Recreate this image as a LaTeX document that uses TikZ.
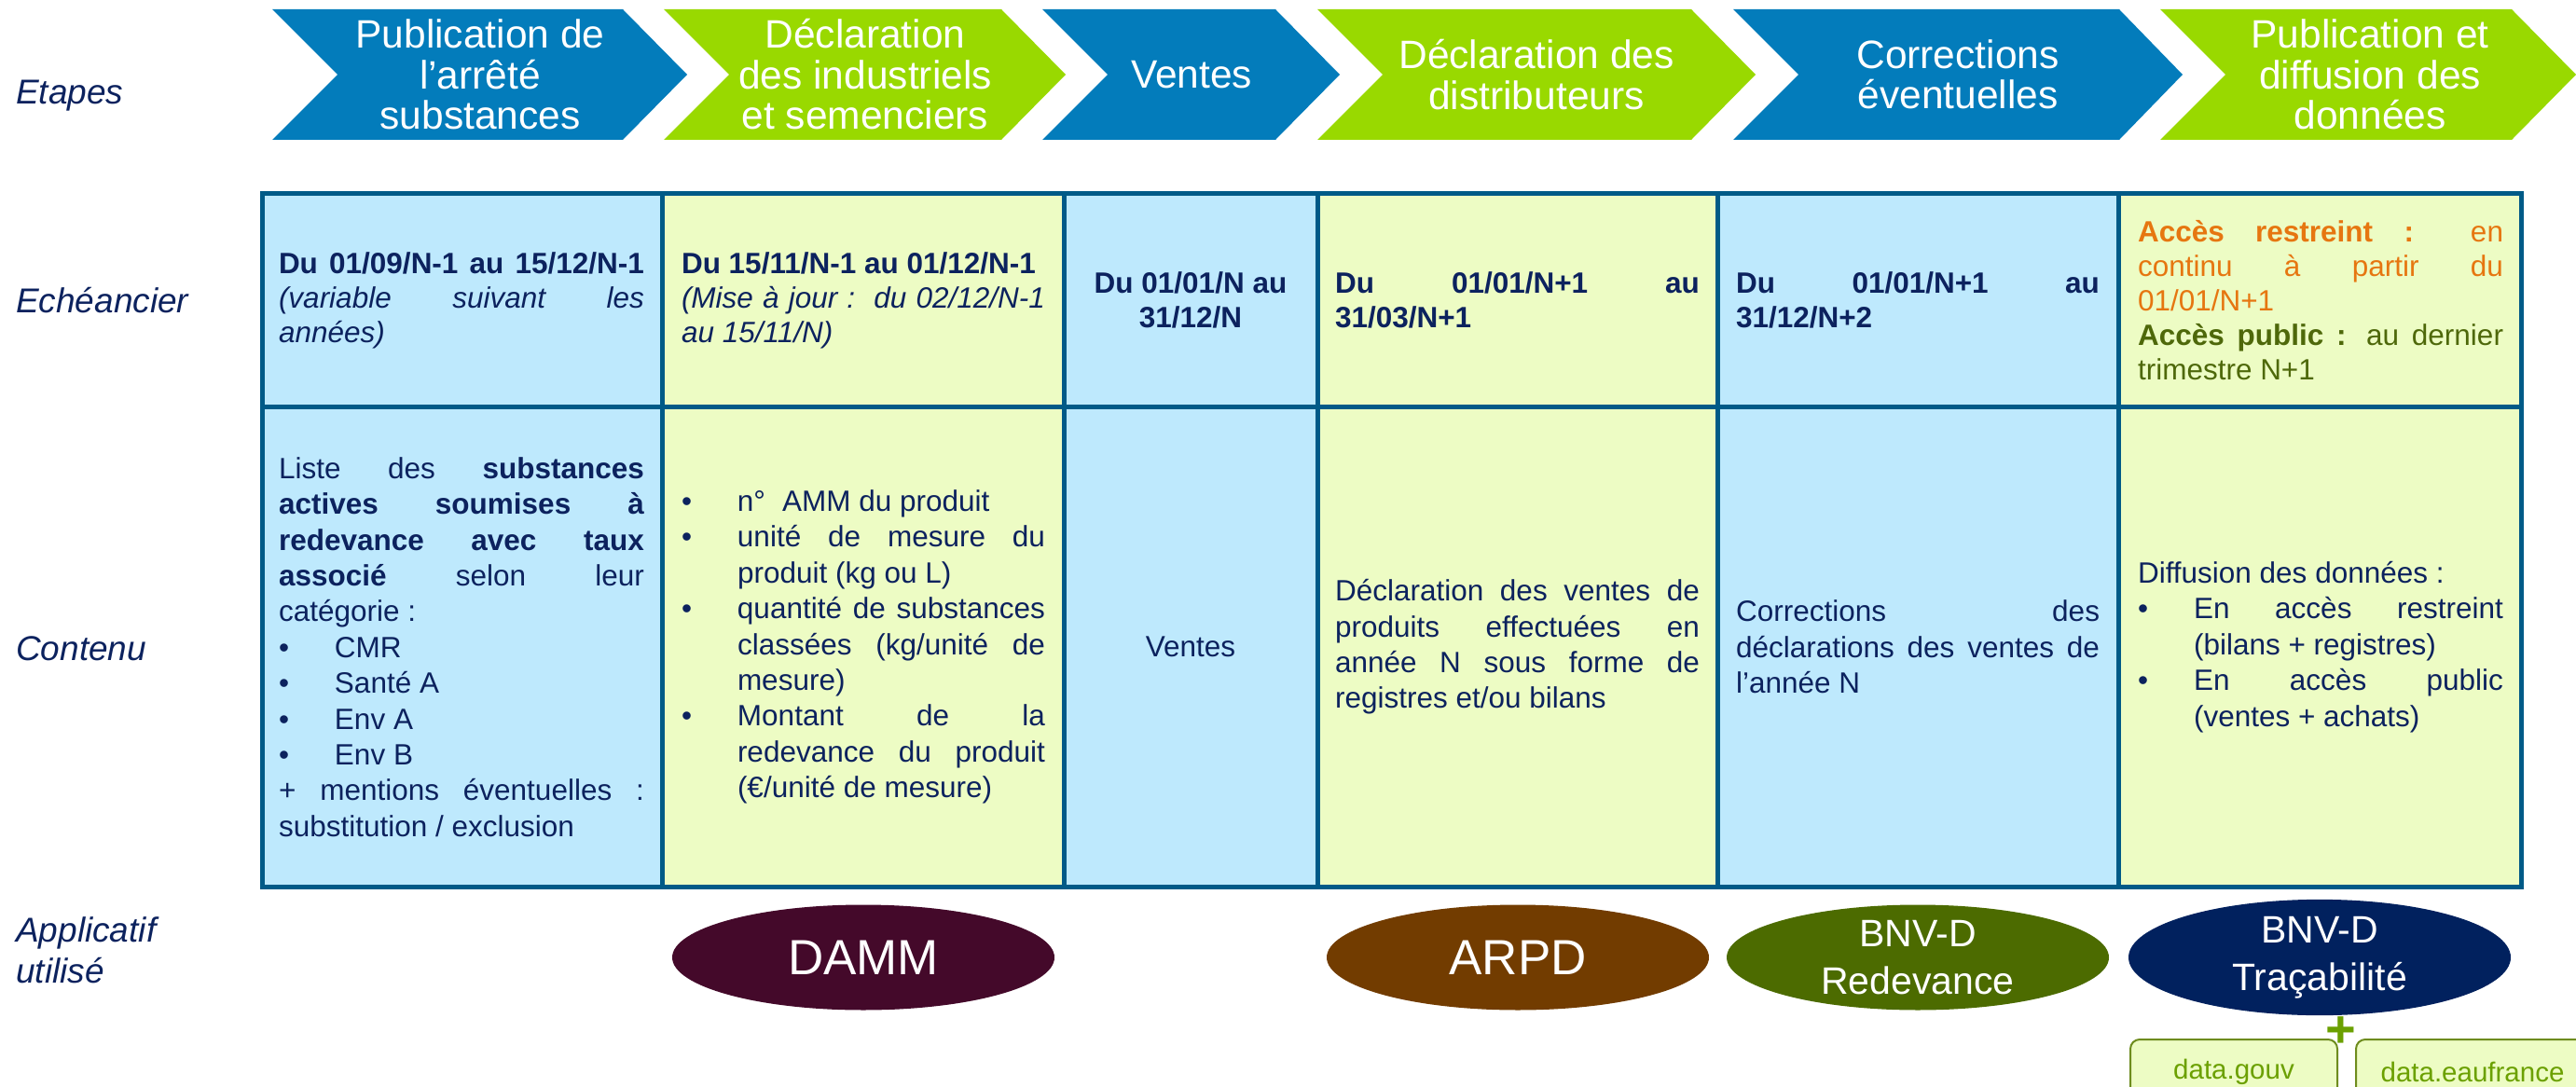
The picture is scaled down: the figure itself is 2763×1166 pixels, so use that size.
\documentclass[tikz,border=0pt]{standalone}
\usepackage{fontspec}
\setmainfont{Liberation Sans}
\usetikzlibrary{shapes.geometric}
\definecolor{chblue}{RGB}{3,124,187}
\definecolor{chgreen}{RGB}{153,217,0}
\definecolor{navy}{RGB}{12,34,94}
\definecolor{tborder}{RGB}{0,90,135}
\definecolor{cblue}{RGB}{190,233,253}
\definecolor{cgreen}{RGB}{237,252,196}
\definecolor{orng}{RGB}{230,118,16}
\definecolor{olv}{RGB}{78,104,10}
\definecolor{cdamm}{RGB}{68,9,42}
\definecolor{carpd}{RGB}{114,60,0}
\definecolor{credev}{RGB}{76,107,0}
\definecolor{ctrac}{RGB}{1,33,94}
\definecolor{dgreen}{RGB}{107,160,0}
\definecolor{dborder}{RGB}{110,140,30}
\newlength{\cwid}
\newcommand{\jline}[1]{\hbox to \cwid{\spaceskip=0pt\xspaceskip=0pt #1}}
\newcommand{\bitem}[1]{\makebox[60pt][l]{•}#1}
\newcommand{\bjline}[1]{\makebox[60pt][l]{•}\hbox to \dimexpr\cwid-60pt\relax{\spaceskip=0pt\xspaceskip=0pt #1}}
\newcommand{\hgline}[1]{\hspace*{60pt}#1}
\newcommand{\hjline}[1]{\hspace*{60pt}\hbox to \dimexpr\cwid-60pt\relax{\spaceskip=0pt\xspaceskip=0pt #1}}
\tikzset{
  chev/.style={text=white, align=center, font=\fontsize{42.5}{43.5}\selectfont, inner sep=0},
  lbl/.style={text=navy, anchor=west, align=left, font=\fontsize{37}{44}\selectfont\itshape, inner sep=0},
  cellA/.style={text=navy, text width=#1, align=justify, inner sep=0, font=\fontsize{31.5}{37}\selectfont, execute at begin node={\setlength{\cwid}{#1}}},
  cellB/.style={text=navy, text width=#1, align=justify, inner sep=0, font=\fontsize{31.5}{38.4}\selectfont, execute at begin node={\setlength{\cwid}{#1}}},
  ccell/.style={text=navy, align=center, inner sep=0},
  app/.style={ellipse, minimum width=410pt, minimum height=113pt, inner sep=0, text=white, align=center},
  dbox/.style={draw=dborder, line width=2pt, fill=cgreen, rounded corners=10pt, text=dgreen, font=\fontsize{29.5}{36}\selectfont, inner sep=0}
}
\begin{document}
\begin{tikzpicture}[x=1pt,y=-1pt]
\useasboundingbox (0,0) rectangle (2763,1166);
% chevrons
\fill[chblue]  (292,10) -- (668,10) -- (737,80) -- (668,150) -- (292,150) -- (362,80) -- cycle;
\fill[chgreen] (712,10) -- (1074,10) -- (1143,80) -- (1074,150) -- (712,150) -- (782,80) -- cycle;
\fill[chblue]  (1118,10) -- (1368,10) -- (1437,80) -- (1368,150) -- (1118,150) -- (1188,80) -- cycle;
\fill[chgreen] (1413,10) -- (1814,10) -- (1883,80) -- (1814,150) -- (1413,150) -- (1483,80) -- cycle;
\fill[chblue]  (1859,10) -- (2273,10) -- (2341,80) -- (2273,150) -- (1859,150) -- (1929,80) -- cycle;
\fill[chgreen] (2317,10) -- (2694,10) -- (2763,80) -- (2694,150) -- (2317,150) -- (2387,80) -- cycle;
\node[chev] (s1) at (515,80) {Publication de\\l’arrêté\\substances};
\node[chev] (s2) at (928,80) {Déclaration\\des industriels\\et semenciers};
\node[chev] (s3) at (1278,80) {Ventes};
\node[chev] (s4) at (1648,80) {Déclaration des\\distributeurs};
\node[chev] (s5) at (2100,80) {Corrections\\éventuelles};
\node[chev] (s6) at (2542,80) {Publication et\\diffusion des\\données};
% labels
\node[lbl] (l1) at (17,103) {Etapes};
\node[lbl] (l2) at (17,322) {Echéancier};
\node[lbl] (l3) at (17,696) {Contenu};
\node[lbl] (l4) at (17,1019) {Applicatif\\utilisé};
% table
\fill[cblue]  (281,208) rectangle (710,951);
\fill[cgreen] (710,208) rectangle (1141,951);
\fill[cblue]  (1141,208) rectangle (1413,951);
\fill[cgreen] (1413,208) rectangle (1842,951);
\fill[cblue]  (1842,208) rectangle (2272,951);
\fill[cgreen] (2272,208) rectangle (2704,951);
\draw[tborder, line width=5pt] (281,208) rectangle (2704,951);
\draw[tborder, line width=5pt] (281,436) -- (2704,436);
\foreach \xx in {710,1141,1413,1842,2272} \draw[tborder, line width=5pt] (\xx,208) -- (\xx,951);
% row 1
\node[cellA=392pt] (e1) at (495,322) {\jline{\bfseries Du 01/09/N-1 au 15/12/N-1}\\ \jline{\itshape (variable suivant les}\\ {\itshape années)}};
\node[cellA=390pt] (e2) at (926,322) {{\bfseries Du 15/11/N-1 au 01/12/N-1}\\ \jline{\itshape (Mise à jour :\ \ du 02/12/N-1}\\ {\itshape au 15/11/N)}};
\node[ccell, font=\fontsize{31.5}{37}\selectfont\bfseries] (e3) at (1277,322) {Du 01/01/N au\\31/12/N};
\node[cellA=391pt] (e4) at (1627.5,322) {\jline{\bfseries Du 01/01/N+1 au}\\ {\bfseries 31/03/N+1}};
\node[cellA=390pt] (e5) at (2057,322) {\jline{\bfseries Du 01/01/N+1 au}\\ {\bfseries 31/12/N+2}};
\node[cellA=392pt] (e6) at (2489,322) {\jline{\color{orng}\textbf{Accès restreint :} en}\\ \jline{\color{orng}continu à partir du}\\ {\color{orng}01/01/N+1}\\ \jline{\color{olv}\textbf{Accès public :} au dernier}\\ {\color{olv}trimestre N+1}};
% row 2
\node[cellB=392pt] (c1) at (495,694) {\jline{Liste des \textbf{substances}}\\ \jline{\bfseries actives soumises à}\\ \jline{\bfseries redevance avec taux}\\ \jline{\textbf{associé} selon leur}\\ catégorie :\\ \bitem{CMR}\\ \bitem{Santé A}\\ \bitem{Env A}\\ \bitem{Env B}\\ \jline{+ mentions éventuelles :}\\ substitution / exclusion};
\node[cellB=390pt] (c2) at (926,694) {\bitem{n°\hspace*{18pt}AMM du produit}\\ \bjline{unité de mesure du}\\ \hgline{produit (kg ou L)}\\ \bjline{quantité de substances}\\ \hjline{classées (kg/unité de}\\ \hgline{mesure)}\\ \bjline{Montant de la}\\ \hjline{redevance du produit}\\ \hgline{(€/unité de mesure)}};
\node[ccell, font=\fontsize{31.5}{37}\selectfont] (c3) at (1277,694) {Ventes};
\node[cellB=391pt] (c4) at (1627.5,694) {\jline{Déclaration des ventes de}\\ \jline{produits effectuées en}\\ \jline{année N sous forme de}\\ registres et/ou bilans};
\node[cellB=390pt] (c5) at (2057,694) {\jline{Corrections des}\\ \jline{déclarations des ventes de}\\ l’année N};
\node[cellB=392pt] (c6) at (2489,694) {Diffusion des données :\\ \bjline{En accès restreint}\\ \hgline{(bilans + registres)}\\ \bjline{En accès public}\\ \hgline{(ventes + achats)}};
% applications
\node[app, fill=cdamm, font=\fontsize{53}{56}\selectfont] (damm) at (926,1027) {DAMM};
\node[app, fill=carpd, font=\fontsize{53}{56}\selectfont] (arpd) at (1628,1027) {ARPD};
\node[app, fill=credev, font=\fontsize{41}{51}\selectfont] (redev) at (2057,1027) {BNV-D\\Redevance};
\node[app, fill=ctrac, font=\fontsize{41}{51}\selectfont] (trac) at (2488,1027) {BNV-D\\Traçabilité};
\node[text=dgreen, font=\fontsize{56}{56}\selectfont\bfseries, inner sep=0, anchor=base] (plus) at (2511,1123) {+};
\node[dbox, minimum width=222pt, minimum height=70pt, anchor=north] (dgouv) at (2396,1114) {data.gouv};
\node[dbox, minimum width=250pt, minimum height=70pt, anchor=north west] (deau) at (2526,1114) {data.eaufrance};
\end{tikzpicture}
\end{document}
